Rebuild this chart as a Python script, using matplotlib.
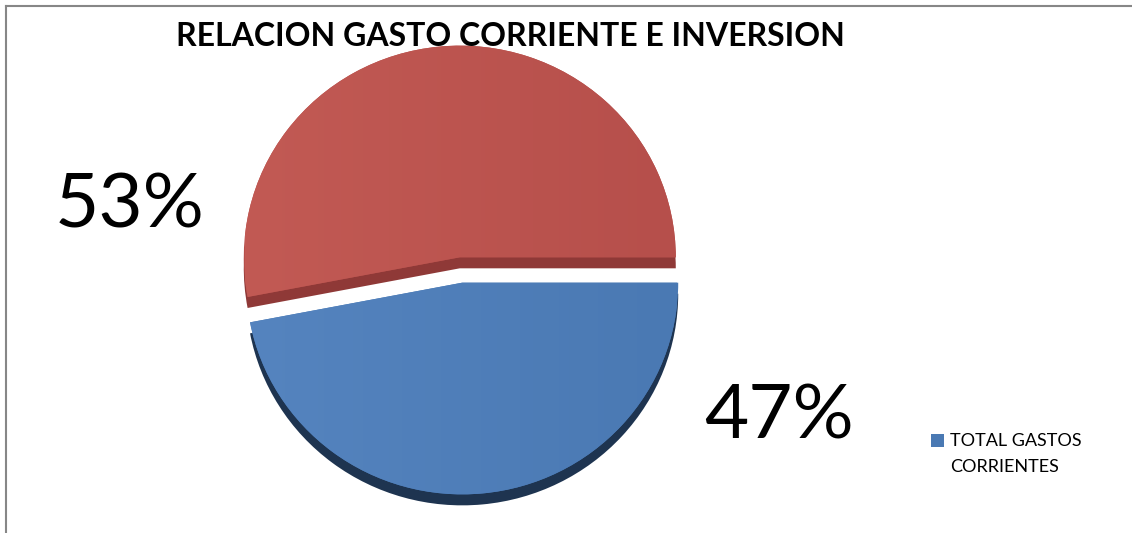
import matplotlib.pyplot as plt
import numpy as np
from matplotlib.colors import LinearSegmentedColormap
from matplotlib.lines import Line2D
from matplotlib.patches import Rectangle
from matplotlib.legend_handler import HandlerPatch

# data
title = "RELACION GASTO CORRIENTE E INVERSION"
labels = ["INVERSION", "TOTAL GASTOS\nCORRIENTES"]
shares = [53, 47]

face_left = ["#C25A54", "#5584BF"]
face_right = ["#B64F4B", "#4A79B3"]
side_colors = ["#8F3937", "#1E3450"]

plt.rcParams["font.family"] = ["Lato", "DejaVu Sans"]

W, H = 1132, 533
fig = plt.figure(figsize=(W / 100, H / 100), dpi=100)
fig.patch.set_facecolor("white")
ax = fig.add_axes([0, 0, 1, 1])


def fpos(x, y_top):
    # pixel position (from top-left) -> figure fraction
    return x / W, 1 - y_top / H


# axes: x in pixels, y slightly stretched so the pie looks a bit tilted
ky = 0.98
cx, cy = 461, (H - 270) / ky
r, depth, gap = 216, 11 / ky, 13
explode = [gap, gap]

# ── extrusion (dark copy shifted down), then the faces on top ────────────
sides, _ = ax.pie(shares, explode=explode, colors=side_colors, startangle=0,
                  counterclock=True, center=(cx, cy - depth), radius=r, frame=True)
faces, _ = ax.pie(shares, explode=explode, colors=face_right, startangle=0,
                  counterclock=True, center=(cx, cy), radius=r, frame=True)

# horizontal shading on each face
grad = np.linspace(0, 1, 256).reshape(1, -1)
for w, c0, c1 in zip(faces, face_left, face_right):
    cmap = LinearSegmentedColormap.from_list("shade", [c0, c1])
    im = ax.imshow(grad, cmap=cmap, aspect="auto", zorder=1.5,
                   extent=(cx - r, cx + r, cy - r - 40, cy + r + 40))
    im.set_clip_path(w)

ax.set_xlim(0, W)
ax.set_ylim(0, H / ky)
ax.set_aspect("auto")
ax.axis("off")

# percentage labels
fig.text(*fpos(130, 206), f"{shares[0]}%", fontsize=55, ha="center", va="center")
fig.text(*fpos(779, 417), f"{shares[1]}%", fontsize=55, ha="center", va="center")

# title
fig.text(*fpos(510, 36), title, fontsize=23, fontweight="bold",
         ha="center", va="center")


# legend (only the blue entry shows); square sits on the first text line
def top_square(legend, orig_handle, xdescent, ydescent, width, height, fontsize):
    return Rectangle((-xdescent, -ydescent + 0.75 * fontsize), width, height)


leg = fig.legend([faces[1]], [labels[1]], loc="upper left",
                 bbox_to_anchor=fpos(931, 433), frameon=False, fontsize=13,
                 handlelength=0.72, handleheight=0.72, handletextpad=0.35,
                 borderpad=0, borderaxespad=0,
                 handler_map={faces[1]: HandlerPatch(patch_func=top_square)})
for t in leg.get_texts():
    t.set_linespacing(1.75)

# chart area border (left and top)
fig.add_artist(Line2D([6, 6], [0, 527], transform=None, color="#878787", lw=1.5))
fig.add_artist(Line2D([6, 1131], [527, 527], transform=None, color="#878787", lw=1.5))

fig.savefig("out.png", dpi=100)
